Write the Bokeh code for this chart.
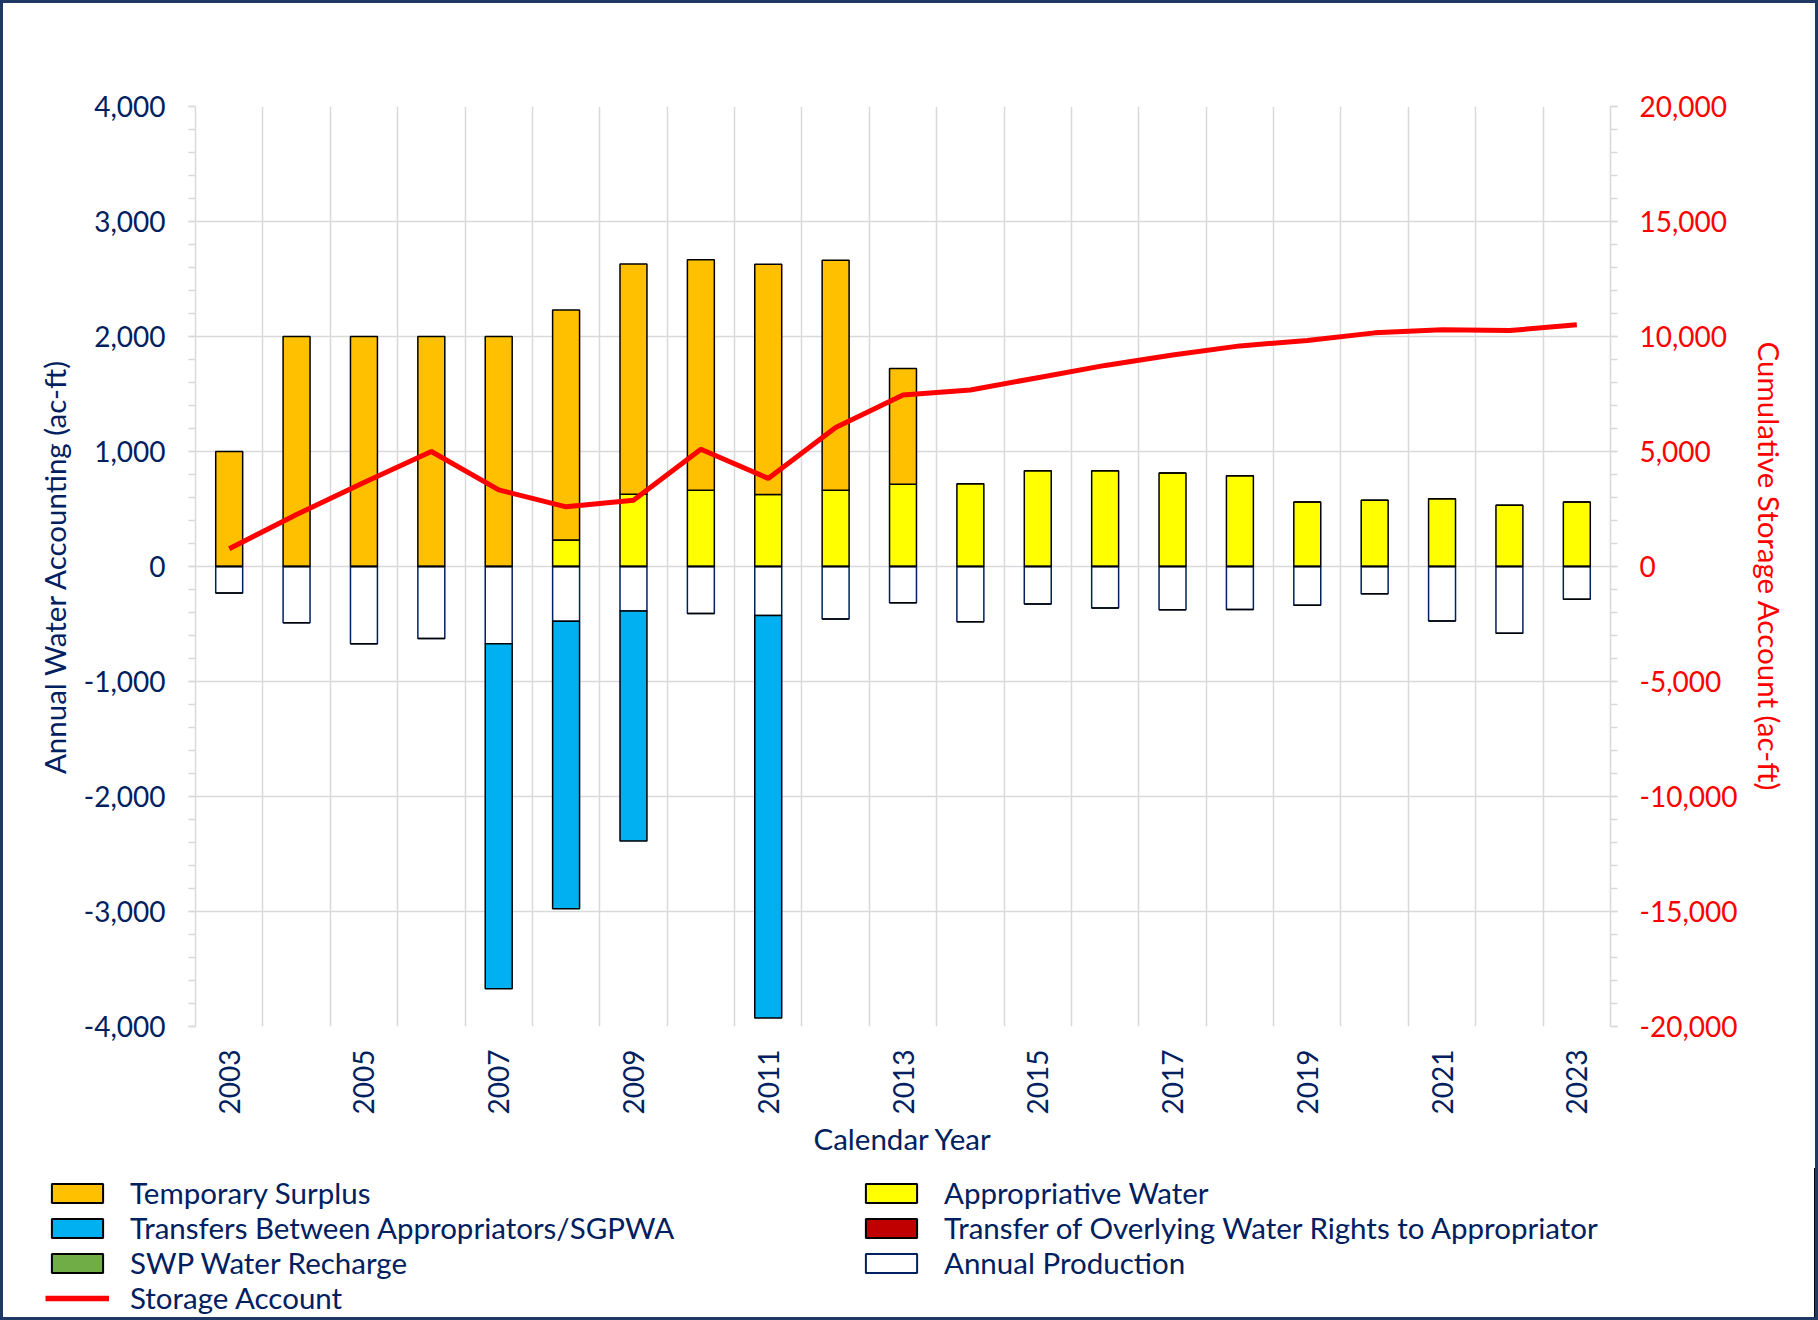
import math
import numpy as np
from bokeh.plotting import figure
from bokeh.layouts import column
from bokeh.models import (Range1d, LinearAxis, FixedTicker, NumeralTickFormatter,
                          Legend, LegendItem, ColumnDataSource)
from bokeh.embed import file_html
from bokeh.resources import INLINE

# ---------------- data ----------------
years = list(range(2003, 2024))
temporary_surplus = [1000, 2000, 2000, 2000, 2000, 2000, 2003, 2005, 2002, 2001, 1006,
                     0, 0, 0, 0, 0, 0, 0, 0, 0, 0]
appropriative_water = [0, 0, 0, 0, 0, 231, 628, 663, 626, 663, 716,
                       719, 833, 833, 813, 789, 560, 576, 590, 533, 560]
transfers_between = [0, 0, 0, 0, -3000, -2500, -2000, 0, -3500, 0, 0,
                     0, 0, 0, 0, 0, 0, 0, 0, 0, 0]
transfer_overlying = [0] * 21
swp_recharge = [0] * 21
annual_production = [-230, -489, -672, -626, -672, -476, -386, -409, -426, -456, -316,
                     -480, -325, -361, -377, -374, -338, -238, -474, -580, -285]
storage_account = [770, 2260, 3650, 5000, 3330, 2595, 2881, 5096, 3830, 6045, 7460,
                   7677, 8210, 8743, 9192, 9592, 9825, 10158, 10291, 10258, 10508]

left_ticks = [-4000, -3000, -2000, -1000, 0, 1000, 2000, 3000, 4000]
right_ticks = [-20000, -15000, -10000, -5000, 0, 5000, 10000, 15000, 20000]
x_tick_years = [2003, 2005, 2007, 2009, 2011, 2013, 2015, 2017, 2019, 2021, 2023]

# ---------------- styling ----------------
NAVY = "#002060"
RED = "#FF0000"
GRID = "#D9D9D9"
FONT = "Lato"
C_TS = "#FFC000"
C_AW = "#FFFF00"
C_TB = "#00B0F0"
C_TOW = "#C00000"
C_SWP = "#70AD47"

aw = np.array(appropriative_water)
ts = np.array(temporary_surplus)
ap = np.array(annual_production)
tb = np.array(transfers_between)
tow = np.array(transfer_overlying)
swp = np.array(swp_recharge)
zero = np.zeros(len(years))

src = ColumnDataSource(dict(
    x=years,
    aw_b=zero, aw_t=aw,
    ts_b=aw, ts_t=aw + ts,
    ap_b=ap, ap_t=zero,
    tb_b=ap + tb, tb_t=ap,
    tow_b=zero, tow_t=tow,
    swp_b=zero, swp_t=swp,
    storage=storage_account,
))

p = figure(width=1812, height=1165, output_backend="svg", toolbar_location=None,
           x_range=Range1d(2002.5, 2023.5), y_range=Range1d(-4000, 4000),
           min_border_left=192, min_border_right=205, min_border_top=103,
           min_border_bottom=142)
p.frame_align = False
p.outline_line_color = None
p.background_fill_color = "white"
p.border_fill_color = "white"

# grids
p.xgrid.ticker = FixedTicker(ticks=[y - 0.5 for y in years] + [years[-1] + 0.5])
p.ygrid.ticker = FixedTicker(ticks=left_ticks)
for g in (p.xgrid, p.ygrid):
    g.grid_line_color = GRID
    g.grid_line_width = 1.5

# x axis
xa = p.xaxis[0]
xa.ticker = FixedTicker(ticks=x_tick_years)
xa.major_label_orientation = math.pi / 2
xa.major_tick_line_color = None
xa.minor_tick_line_color = None
xa.major_tick_out = 0
xa.major_tick_in = 0
xa.axis_line_color = None
xa.major_label_standoff = 23
xa.major_label_text_font = FONT
xa.major_label_text_font_size = "28px"
xa.major_label_text_color = NAVY
xa.axis_label = "Calendar Year"
xa.axis_label_text_font = FONT
xa.axis_label_text_font_size = "29.5px"
xa.axis_label_text_font_style = "normal"
xa.axis_label_text_color = NAVY
xa.axis_label_standoff = 4

# left y axis
ya = p.yaxis[0]
ya.ticker = FixedTicker(ticks=left_ticks, minor_ticks=list(range(-4000, 4001, 200)))
ya.formatter = NumeralTickFormatter(format="0,0")
ya.axis_line_color = GRID
ya.axis_line_width = 1.5
ya.major_tick_line_color = GRID
ya.minor_tick_line_color = GRID
ya.major_tick_line_width = 1.5
ya.minor_tick_line_width = 1.5
ya.major_tick_out = 7
ya.major_tick_in = 0
ya.minor_tick_out = 7
ya.minor_tick_in = 0
ya.major_label_standoff = 23
ya.major_label_text_font = FONT
ya.major_label_text_font_size = "28px"
ya.major_label_text_color = NAVY
ya.axis_label = "Annual Water Accounting (ac-ft)"
ya.axis_label_text_font = FONT
ya.axis_label_text_font_size = "29.5px"
ya.axis_label_text_font_style = "normal"
ya.axis_label_text_color = NAVY
ya.axis_label_standoff = 9

# right y axis
p.extra_y_ranges = {"storage": Range1d(-20000, 20000)}
ra = LinearAxis(y_range_name="storage",
                ticker=FixedTicker(ticks=right_ticks, minor_ticks=list(range(-20000, 20001, 1000))),
                formatter=NumeralTickFormatter(format="0,0"))
ra.axis_line_color = GRID
ra.axis_line_width = 1.5
ra.major_tick_line_color = GRID
ra.minor_tick_line_color = GRID
ra.major_tick_line_width = 1.5
ra.minor_tick_line_width = 1.5
ra.major_tick_out = 7
ra.major_tick_in = 0
ra.minor_tick_out = 7
ra.minor_tick_in = 0
ra.major_label_standoff = 22
ra.major_label_text_font = FONT
ra.major_label_text_font_size = "28px"
ra.major_label_text_color = RED
ra.axis_label = "Cumulative Storage Account (ac-ft)"
ra.axis_label_text_font = FONT
ra.axis_label_text_font_size = "29.5px"
ra.axis_label_text_font_style = "normal"
ra.axis_label_text_color = RED
ra.axis_label_standoff = 12
p.add_layout(ra, "right")

W = 0.4
BAR_STYLES = {
    "aw": (C_AW, "black"),
    "ts": (C_TS, "black"),
    "ap": ("white", NAVY),
    "tb": (C_TB, "black"),
    "tow": (C_TOW, "black"),
    "swp": (C_SWP, "black"),
}


def add_bars(fig, key, lw):
    fill, line = BAR_STYLES[key]
    return fig.vbar(x="x", bottom=key + "_b", top=key + "_t", width=W, source=src,
                    fill_color=fill, line_color=line, line_width=lw)


for k in ["aw", "ts", "ap", "tb", "tow", "swp"]:
    add_bars(p, k, 1.5)

p.line(x="x", y="storage", source=src, y_range_name="storage", line_color=RED,
       line_width=5)

# ---------------- legend panel ----------------
# same data series; this panel's view range shows none of them, only the legend
lp = figure(width=1812, height=149, output_backend="svg", toolbar_location=None,
            x_axis_type=None, y_axis_type=None, x_range=Range1d(0, 1),
            y_range=Range1d(0, 1), min_border=0)
lp.frame_align = False
lp.outline_line_color = None
lp.xgrid.visible = False
lp.ygrid.visible = False
lp.background_fill_color = "white"
lp.border_fill_color = "white"

g = {k: add_bars(lp, k, 2) for k in ["ts", "tb", "swp", "aw", "tow", "ap"]}
g_line = lp.line(x="x", y="storage", source=src, line_color=RED, line_width=5.5)


def make_legend(items, loc):
    lg = Legend(items=items, location=loc, orientation="vertical")
    lg.glyph_width = 64
    lg.glyph_height = 24
    lg.label_standoff = 21
    lg.spacing = 0
    lg.padding = 0
    lg.margin = 0
    lg.border_line_color = None
    lg.background_fill_alpha = 0
    lg.label_text_font = FONT
    lg.label_text_font_size = "29.5px"
    lg.label_text_color = NAVY
    return lg


left_items = [LegendItem(label="Temporary Surplus", renderers=[g["ts"]]),
              LegendItem(label="Transfers Between Appropriators/SGPWA", renderers=[g["tb"]]),
              LegendItem(label="SWP Water Recharge", renderers=[g["swp"]]),
              LegendItem(label="Storage Account", renderers=[g_line])]
right_items = [LegendItem(label="Appropriative Water", renderers=[g["aw"]]),
               LegendItem(label="Transfer of Overlying Water Rights to Appropriator",
                          renderers=[g["tow"]]),
               LegendItem(label="Annual Production", renderers=[g["ap"]])]

lp.add_layout(make_legend(left_items, (42, 2)), "center")
lp.add_layout(make_legend(right_items, (856, 37)), "center")

layout = column(p, lp, spacing=0,
                styles={"border": "3px solid #1F3864", "background-color": "white"})

open("out.html", "w").write(file_html(layout, INLINE))
